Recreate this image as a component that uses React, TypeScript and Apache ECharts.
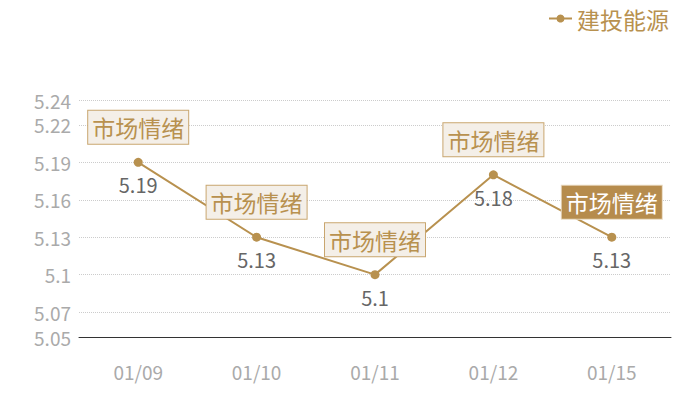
import * as echarts from "echarts";
import { useEffect, useRef } from "react";

const categories = ["01/09", "01/10", "01/11", "01/12", "01/15"];
const values = [5.19, 5.13, 5.1, 5.18, 5.13];
const yTicks = [5.05, 5.07, 5.1, 5.13, 5.16, 5.19, 5.22, 5.24];
const tagText = "市场情绪";
const seriesName = "建投能源";

const gold = "#b8914f";
const font = "'Noto Sans CJK SC', 'Noto Sans', sans-serif";

export default function App() {
  const ref = useRef<HTMLDivElement>(null);

  useEffect(() => {
    if (!ref.current) return;
    const chart = echarts.init(ref.current, undefined, { renderer: "svg" });

    const tags = values.map((v, i) => {
      const last = i === values.length - 1;
      return {
        coord: [i, v],
        label: {
          show: true,
          formatter: tagText,
          offset: [0, -35],
          fontSize: 23,
          lineHeight: 29,
          padding: [2, 4],
          color: last ? "#ffffff" : gold,
          backgroundColor: last ? "#b68c4d" : "#f4efe8",
          borderColor: last ? "#e8d9c0" : "#c9a66f",
          borderWidth: 1,
          fontFamily: font,
        },
      };
    });

    chart.setOption({
      animation: false,
      textStyle: { fontFamily: font },
      legend: {
        right: 26,
        top: 2,
        itemWidth: 23,
        itemHeight: 10,
        itemGap: 8,
        textStyle: { color: gold, fontSize: 23, fontFamily: font },
        data: [seriesName],
      },
      grid: { left: 79, right: 29, top: 100, bottom: 63 },
      xAxis: {
        type: "category",
        data: categories,
        axisLine: { lineStyle: { color: "#333", width: 1 } },
        axisTick: { show: false },
        axisLabel: { color: "#aaaaaa", fontSize: 19, margin: 25, fontFamily: font },
      },
      yAxis: {
        type: "value",
        min: 5.05,
        max: 5.24,
        interval: 0.01,
        axisLine: { show: false },
        axisTick: { show: false, customValues: yTicks },
        axisLabel: {
          color: "#aaaaaa",
          fontSize: 19,
          margin: 8,
          fontFamily: font,
          customValues: yTicks,
        },
        splitLine: { lineStyle: { color: "#cccccc", type: "dotted" } },
      },
      series: [
        {
          name: seriesName,
          type: "line",
          data: values,
          symbol: "circle",
          symbolSize: 9,
          lineStyle: { color: gold, width: 2 },
          itemStyle: { color: gold },
          label: {
            show: true,
            position: "bottom",
            distance: 8,
            color: "#666666",
            fontSize: 20,
            fontFamily: font,
          },
          markPoint: {
            symbol: "circle",
            symbolSize: 0,
            data: tags,
          },
        },
      ],
    });

    return () => chart.dispose();
  }, []);

  return <div ref={ref} style={{ width: 700, height: 400, margin: -8 }} />;
}
